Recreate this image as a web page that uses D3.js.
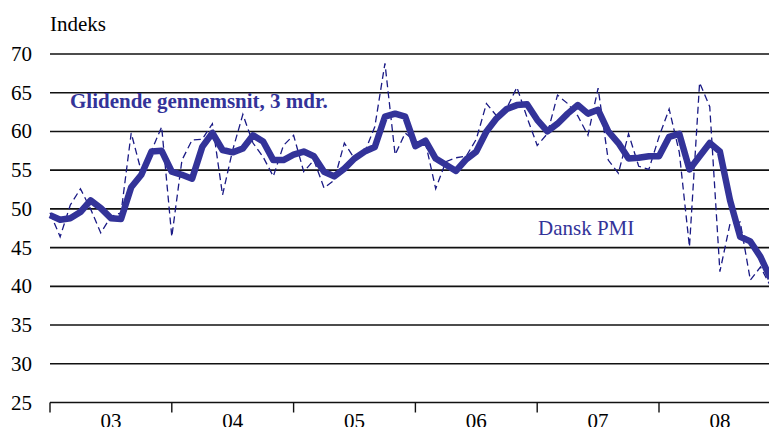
<!DOCTYPE html>
<html>
<head>
<meta charset="utf-8">
<script src="https://cdn.jsdelivr.net/npm/d3@7"></script>
<style>
  body { margin: 0; background: #fff; }
  svg { display: block; }
</style>
</head>
<body>
<div id="chart"></div>
<script>
// monthly values, jan 2003 - dec 2008
var pmi = [
  49.5, 46.4, 50.5, 52.6, 50.0, 46.9, 49.0, 49.5, 59.8, 54.8, 57.5, 60.6,
  46.4, 56.3, 58.9, 59.0, 61.0, 51.8, 57.6, 62.2, 58.5, 56.7, 54.2, 58.2,
  59.5, 54.8, 56.3, 52.7, 53.7, 58.5, 56.5, 57.3, 60.6, 68.8, 57.0, 59.8,
  58.7, 58.5, 52.6, 56.1, 56.6, 56.8, 59.0, 63.6, 62.0, 63.0, 65.7, 61.8,
  58.2, 59.7, 64.7, 63.6, 62.0, 59.5, 65.6, 56.3, 54.6, 59.7, 55.5, 55.1,
  59.3, 62.9, 57.3, 45.1, 66.3, 63.2, 41.9, 48.1, 48.3, 40.8, 42.5, 40.0
];
var avg3 = [
  49.2, 48.6, 48.8, 49.6, 51.1, 50.1, 48.8, 48.7, 52.8, 54.4, 57.4, 57.5,
  54.8, 54.4, 53.9, 58.0, 59.8, 57.6, 57.3, 57.8, 59.5, 58.7, 56.3, 56.3,
  57.0, 57.4, 56.8, 54.8, 54.2, 55.2, 56.5, 57.4, 58.0, 61.9, 62.3, 61.9,
  58.1, 58.8, 56.5, 55.7, 54.9, 56.4, 57.4, 60.0, 61.7, 62.9, 63.4, 63.5,
  61.5, 60.0, 61.0, 62.3, 63.4, 62.3, 62.8, 60.0, 58.5, 56.5, 56.6, 56.8,
  56.8, 59.3, 59.7, 55.1, 56.8, 58.5, 57.4, 51.1, 46.4, 45.8, 43.8, 41.0
];
var yearLabels = ['03', '04', '05', '06', '07', '08'];
var yTicks = [25, 30, 35, 40, 45, 50, 55, 60, 65, 70];

var width = 769, height = 427;
var left = 50, monthW = 10.15;
var blue = '#333399';

var svg = d3.select('#chart')
  .append('svg')
  .attr('width', width)
  .attr('height', height)
  .style('font-family', '"Liberation Serif", "Times New Roman", serif');

var x = d3.scaleLinear().domain([0, pmi.length - 1]).range([left, left + (pmi.length - 1) * monthW]);
var y = d3.scaleLinear().domain([25, 70]).range([402.5, 54]);

// horizontal grid
svg.selectAll('.grid')
  .data(yTicks)
  .enter()
  .append('line')
  .attr('x1', left)
  .attr('x2', width)
  .attr('y1', function(d){ return y(d) })
  .attr('y2', function(d){ return y(d) })
  .attr('stroke', '#111')
  .attr('stroke-width', 1.6);

svg.selectAll('.ylab')
  .data(yTicks)
  .enter()
  .append('text')
  .attr('x', 32)
  .attr('y', function(d){ return y(d) + 7 })
  .attr('text-anchor', 'end')
  .style('font-size', '21px')
  .text(function(d){ return d });

svg.append('text')
  .attr('x', 50)
  .attr('y', 31)
  .style('font-size', '21px')
  .text('Indeks');

// year ticks and labels on the bottom axis
svg.selectAll('.ytick')
  .data(yearLabels)
  .enter()
  .append('line')
  .attr('x1', function(d, i){ return x(i * 12) })
  .attr('x2', function(d, i){ return x(i * 12) })
  .attr('y1', y(25))
  .attr('y2', y(25) + 10)
  .attr('stroke', '#111')
  .attr('stroke-width', 1.4);

svg.selectAll('.xlab')
  .data(yearLabels)
  .enter()
  .append('text')
  .attr('x', function(d, i){ return (x(i * 12) + x(i * 12 + 12)) / 2 })
  .attr('y', 428)
  .attr('text-anchor', 'middle')
  .style('font-size', '21px')
  .text(function(d){ return d });

var line = d3.line()
  .x(function(d, i){ return x(i) })
  .y(function(d){ return y(d) });

svg.append('path')
  .datum(pmi)
  .attr('d', line)
  .attr('fill', 'none')
  .attr('stroke', '#1a1a85')
  .attr('stroke-width', 1.3)
  .attr('stroke-dasharray', '7,4');

svg.append('path')
  .datum(avg3)
  .attr('d', line)
  .attr('fill', 'none')
  .attr('stroke', blue)
  .attr('stroke-width', 6.5)
  .attr('stroke-linejoin', 'round');

svg.append('text')
  .attr('x', 70)
  .attr('y', 108)
  .attr('fill', blue)
  .style('font-size', '21px')
  .style('font-weight', 'bold')
  .text('Glidende gennemsnit, 3 mdr.');

svg.append('text')
  .attr('x', 538)
  .attr('y', 235)
  .attr('fill', blue)
  .style('font-size', '21px')
  .text('Dansk PMI');
</script>
</body>
</html>
